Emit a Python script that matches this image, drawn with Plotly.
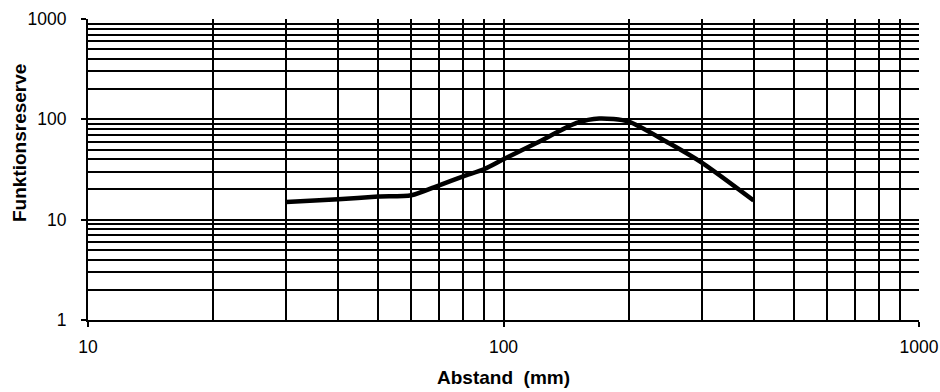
import plotly.graph_objects as go

abstand = [30, 40, 50, 60, 70, 80, 90, 100, 120, 150, 170, 200, 250, 300, 400]
reserve = [15, 16, 17, 17.5, 22, 27, 32, 40, 58, 92, 102, 95, 58, 37, 15.5]

x_ticks = [10, 100, 1000]
y_ticks = [1, 10, 100, 1000]

x_title = "Abstand  (mm)"
y_title = "Funktionsreserve"

fig = go.Figure()
fig.add_trace(go.Scatter(
    x=abstand, y=reserve, mode="lines",
    line=dict(color="black", width=4.5, shape="spline", smoothing=0.7),
    showlegend=False,
))

font = "Liberation Sans, Arial, sans-serif"
fig.update_layout(
    width=940, height=392,
    margin=dict(l=88, r=21, t=19, b=72),
    paper_bgcolor="white", plot_bgcolor="white",
    font=dict(family=font, size=17.5, color="black"),
)
fig.update_xaxes(
    type="log", range=[1, 3], automargin=False,
    tickvals=x_ticks, ticktext=[str(v) for v in x_ticks],
    showgrid=True, gridcolor="black", gridwidth=2,
    minor=dict(dtick="D1", showgrid=True, gridcolor="black", gridwidth=2, ticks=""),
    ticks="outside", ticklen=5, tickwidth=2, tickcolor="black",
    showline=True, linecolor="black", linewidth=2,
    zeroline=False, ticklabelstandoff=5,
    tickfont=dict(size=17.5),
)
fig.update_yaxes(
    type="log", range=[0, 3], automargin=False,
    tickvals=y_ticks, ticktext=[str(v) for v in y_ticks],
    showgrid=True, gridcolor="black", gridwidth=2,
    minor=dict(dtick="D1", showgrid=True, gridcolor="black", gridwidth=2, ticks=""),
    ticks="outside", ticklen=5, tickwidth=2, tickcolor="black",
    showline=True, linecolor="black", linewidth=2,
    zeroline=False, ticklabelstandoff=11,
    tickfont=dict(size=17.5),
)
fig.add_annotation(
    text="<b>" + x_title + "</b>", xref="paper", yref="paper",
    x=0.5, y=-57 / 301, xanchor="center", yanchor="middle",
    showarrow=False, font=dict(size=19),
)
fig.add_annotation(
    text="<b>" + y_title + "</b>", xref="paper", yref="paper",
    x=-68.5 / 831, y=176.5 / 301, xanchor="center", yanchor="middle",
    textangle=-90, showarrow=False, font=dict(size=19),
)

fig.write_html(
    "out.html",
    config={"displayModeBar": False},
    post_script="document.body.style.margin='0';document.body.style.overflow='hidden';",
)
